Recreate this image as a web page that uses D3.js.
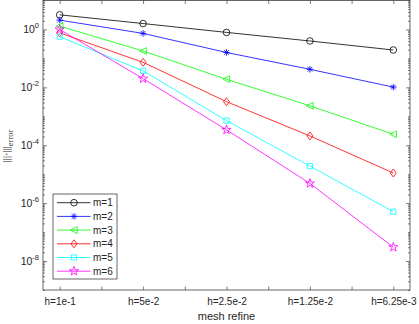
<!DOCTYPE html>
<html>
<head>
<meta charset="utf-8">
<script src="https://cdn.jsdelivr.net/npm/d3@7"></script>
<style>
  body { margin: 0; background: #fff; }
  svg { display: block; font-family: "Liberation Sans", Arial, sans-serif; }
</style>
</head>
<body>
<svg id="chart" width="419" height="324"></svg>
<script>
// mesh levels (position index) and their labels
var levels = [1, 2, 3, 4, 5];
var levelLabels = ["h=1e-1", "h=5e-2", "h=2.5e-2", "h=1.25e-2", "h=6.25e-3"];

// error per polynomial order m
var seriesNames = ["m=1", "m=2", "m=3", "m=4", "m=5", "m=6"];
var errM1 = [3.2, 1.6, 0.79, 0.40, 0.195];
var errM2 = [2.1, 0.73, 0.16, 0.042, 0.0102];
var errM3 = [1.3, 0.18, 0.019, 0.0023, 2.4e-4];
var errM4 = [0.76, 0.073, 0.0032, 2.1e-4, 1.1e-5];
var errM5 = [0.56, 0.037, 7.1e-4, 1.9e-5, 5.1e-7];
var errM6 = [1.0, 0.020, 3.4e-4, 4.8e-6, 3.0e-8];
var yExponents = [0, -2, -4, -6, -8];

var colors = ["#000000", "#0000ff", "#00ff00", "#ff0000", "#00ffff", "#ff00ff"];
var markers = ["circle", "asterisk", "triangle", "diamond", "square", "pentagram"];
var allErr = [errM1, errM2, errM3, errM4, errM5, errM6];

var margin = {top: 0.5, right: 9, bottom: 34, left: 43};
var W = 419, H = 324;

var svg = d3.select("#chart");

var x = d3.scaleLinear().domain([0.8, 5.2]).range([margin.left, W - margin.right]);
var y = d3.scaleLog().domain([1e-9, 1e1]).range([H - margin.bottom, margin.top]);

var axisColor = "#262626";

function markerPath(type) {
    var p = d3.path();
    if (type === "circle") {
        p.moveTo(3.3, 0); p.arc(0, 0, 3.3, 0, 2 * Math.PI);
    } else if (type === "asterisk") {
        var r = 3.3;
        p.moveTo(-r, 0); p.lineTo(r, 0);
        p.moveTo(0, -r); p.lineTo(0, r);
        var d = r * 0.72;
        p.moveTo(-d, -d); p.lineTo(d, d);
        p.moveTo(-d, d); p.lineTo(d, -d);
    } else if (type === "triangle") {
        p.moveTo(-3.6, 0); p.lineTo(3.2, -3.4); p.lineTo(3.2, 3.4); p.closePath();
    } else if (type === "diamond") {
        p.moveTo(0, -4); p.lineTo(3, 0); p.lineTo(0, 4); p.lineTo(-3, 0); p.closePath();
    } else if (type === "square") {
        p.rect(-2.6, -2.6, 5.2, 5.2);
    } else if (type === "pentagram") {
        return d3.symbol().type(d3.symbolStar).size(26)();
    }
    return p.toString();
}

// plot box
svg.append("rect")
    .attr("x", margin.left).attr("y", margin.top)
    .attr("width", W - margin.right - margin.left)
    .attr("height", H - margin.bottom - margin.top)
    .attr("fill", "none").attr("stroke", axisColor).attr("stroke-width", 0.7);

// x ticks (every half step, labels on integer levels)
var xTicks = d3.range(1, 5.01, 0.5);
function xFmt(d) {
    var i = levels.indexOf(d);
    return i >= 0 ? levelLabels[i] : "";
}
var gxb = svg.append("g")
    .attr("transform", "translate(0," + (H - margin.bottom) + ")")
    .call(d3.axisBottom(x).tickValues(xTicks).tickSize(-3.5).tickPadding(8).tickFormat(xFmt));
var gxt = svg.append("g")
    .attr("transform", "translate(0," + margin.top + ")")
    .call(d3.axisTop(x).tickValues(xTicks).tickSize(-3.5).tickFormat(""));

// y ticks: major at labelled decades, minor elsewhere
var majorY = yExponents.map(function (e) { return Math.pow(10, e); });
var minorY = [];
for (var e = -9; e < 1; e++) {
    for (var k = 1; k < 10; k++) {
        var v = k * Math.pow(10, e);
        if (k === 1 && yExponents.indexOf(e) >= 0) continue;
        minorY.push(v);
    }
}
minorY.push(10);

var gyl = svg.append("g").attr("transform", "translate(" + margin.left + ",0)")
    .call(d3.axisLeft(y).tickValues(majorY).tickSize(-4).tickFormat(""));
var gylm = svg.append("g").attr("transform", "translate(" + margin.left + ",0)")
    .call(d3.axisLeft(y).tickValues(minorY).tickSize(-2).tickFormat(""));
var gyr = svg.append("g").attr("transform", "translate(" + (W - margin.right) + ",0)")
    .call(d3.axisRight(y).tickValues(majorY).tickSize(-4).tickFormat(""));
var gyrm = svg.append("g").attr("transform", "translate(" + (W - margin.right) + ",0)")
    .call(d3.axisRight(y).tickValues(minorY).tickSize(-2).tickFormat(""));

[gxb, gxt, gyl, gylm, gyr, gyrm].forEach(function (g) {
    g.select(".domain").remove();
    g.selectAll(".tick line").attr("stroke", axisColor).attr("stroke-width", 0.6);
    g.selectAll(".tick text").attr("fill", axisColor).attr("font-size", 10)
        .style("font-family", "Liberation Sans, Arial, sans-serif");
});

// y tick labels with superscripts
var ylab = svg.append("g");
yExponents.forEach(function (e) {
    var t = ylab.append("text")
        .attr("x", margin.left - 4)
        .attr("y", y(Math.pow(10, e)) + 4)
        .attr("text-anchor", "end")
        .attr("fill", axisColor)
        .attr("font-size", 10.5);
    t.append("tspan").text("10");
    t.append("tspan").attr("dy", -5).attr("font-size", 7.5).text(String(e));
});

// series
var line = d3.line()
    .x(function (d, i) { return x(levels[i]); })
    .y(function (d) { return y(d); });

allErr.forEach(function (vals, si) {
    var g = svg.append("g");
    g.append("path")
        .datum(vals)
        .attr("d", line)
        .attr("fill", "none")
        .attr("stroke", colors[si])
        .attr("stroke-width", 0.8);
    g.selectAll("path.mk")
        .data(vals)
        .enter().append("path")
        .attr("class", "mk")
        .attr("d", markerPath(markers[si]))
        .attr("transform", function (d, i) { return "translate(" + x(levels[i]) + "," + y(d) + ")"; })
        .attr("fill", "none")
        .attr("stroke", colors[si])
        .attr("stroke-width", 0.8);
});

// legend
var lg = svg.append("g").attr("transform", "translate(53,194)");
lg.append("rect")
    .attr("width", 64).attr("height", 85)
    .attr("fill", "#fff").attr("stroke", axisColor).attr("stroke-width", 0.7);
seriesNames.forEach(function (name, i) {
    var yy = 8.7 + i * 13.7;
    lg.append("line")
        .attr("x1", 4).attr("x2", 37.5).attr("y1", yy).attr("y2", yy)
        .attr("stroke", colors[i]).attr("stroke-width", 0.8);
    lg.append("path")
        .attr("d", markerPath(markers[i]))
        .attr("transform", "translate(21," + yy + ")")
        .attr("fill", "none").attr("stroke", colors[i]).attr("stroke-width", 0.8);
    lg.append("text")
        .attr("x", 40).attr("y", yy + 3.6)
        .attr("font-size", 10).attr("fill", axisColor)
        .text(name);
});

// axis titles
svg.append("text")
    .attr("x", (margin.left + W - margin.right) / 2)
    .attr("y", 320)
    .attr("text-anchor", "middle")
    .attr("font-size", 11).attr("fill", axisColor)
    .text("mesh refine");

var yt = svg.append("text")
    .attr("transform", "translate(10," + 146 + ") rotate(-90)")
    .attr("text-anchor", "middle")
    .attr("font-size", 10.5).attr("fill", axisColor)
    .style("font-family", "Liberation Serif, Times New Roman, serif");
yt.append("tspan").text("|||\u00b7|||");
yt.append("tspan").attr("dy", 2.5).attr("font-size", 8.5).text("error");
</script>
</body>
</html>
